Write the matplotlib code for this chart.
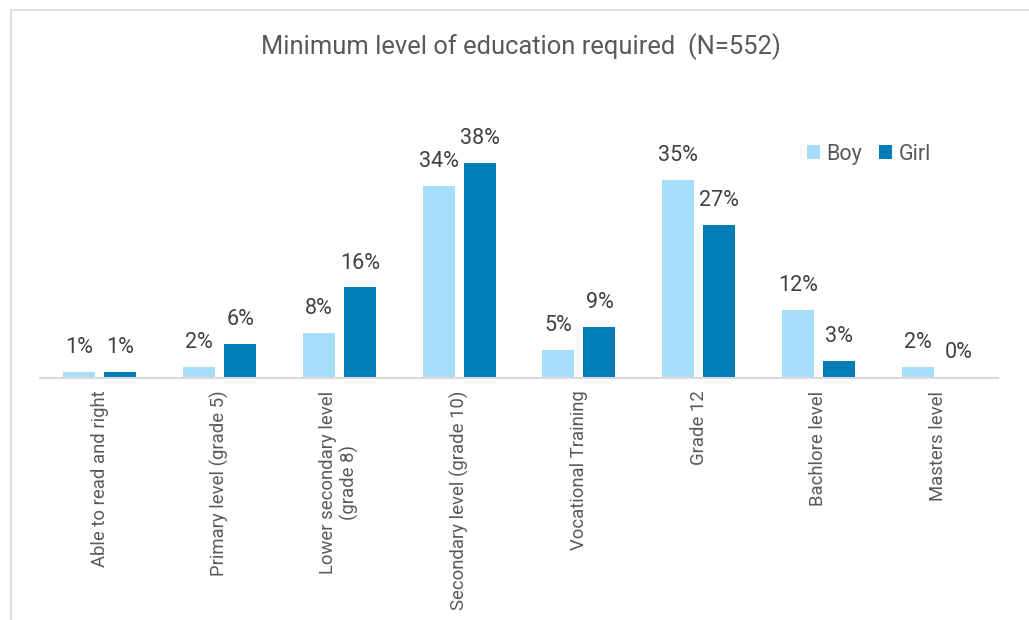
import matplotlib.pyplot as plt
import numpy as np
from matplotlib.patches import Rectangle

plt.rcParams["font.family"] = ["Roboto", "DejaVu Sans"]

# Survey answers, percent of respondents
levels = [
    "Able to read and right",
    "Primary level (grade 5)",
    "Lower secondary level\n(grade 8)",
    "Secondary level (grade 10)",
    "Vocational Training",
    "Grade 12",
    "Bachlore level",
    "Masters level",
]
boy = [1, 2, 8, 34, 5, 35, 12, 2]
girl = [1, 6, 16, 38, 9, 27, 3, 0.25]

boy_color = "#A6DEFA"
girl_color = "#007CB9"
text_color = "#595959"
label_color = "#404040"

fig = plt.figure(figsize=(10.29, 6.2), dpi=100)
ax = fig.add_axes([0.0389, 0.3903, 0.931, 0.3652])

# outer frame around the chart area
fig.patches.append(Rectangle((11 / 1029, -0.1), 1.2, 1 - 10 / 620 + 0.1,
                             transform=fig.transFigure, fill=False,
                             edgecolor="#D9D9D9", linewidth=1.2))

x = np.arange(len(levels))
width = 0.267
off = 0.171
bars_b = ax.bar(x - off, boy, width, color=boy_color, label="Boy")
bars_g = ax.bar(x + off, girl, width, color=girl_color, label="Girl")

for bars, vals in ((bars_b, boy), (bars_g, girl)):
    for rect, v in zip(bars, vals):
        ax.annotate(f"{v:.0f}%", (rect.get_x() + rect.get_width() / 2, rect.get_height()),
                    xytext=(0, 10), textcoords="offset points",
                    ha="center", va="bottom", fontsize=15.5, color=label_color)

ax.set_xlim(-0.5, len(levels) - 0.5)
ax.set_ylim(0, 40)
ax.set_xticks(x)
ax.set_xticklabels(levels, rotation=90, ha="center", va="top",
                   fontsize=13.3, color=text_color)
ax.tick_params(axis="x", length=0, pad=9)
ax.set_yticks([])
for side in ("top", "right", "left"):
    ax.spines[side].set_visible(False)
ax.spines["bottom"].set_color("#D9D9D9")
ax.spines["bottom"].set_linewidth(1.5)

fig.text(0.506, 0.925, "Minimum level of education required  (N=552)",
         ha="center", va="center", fontsize=18.4, color=text_color)

leg = ax.legend(loc="upper left", bbox_to_anchor=(0.78, 1.12), ncol=2, frameon=False,
                fontsize=15.5, handlelength=0.6, handleheight=0.6,
                handletextpad=0.3, columnspacing=0.8)
for t in leg.get_texts():
    t.set_color(text_color)

fig.savefig("out.png", dpi=100)
